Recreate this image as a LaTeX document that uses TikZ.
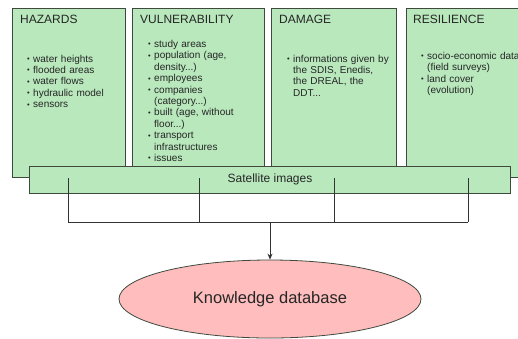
\documentclass[tikz,border=0pt]{standalone}
\usepackage{fontspec}
\setmainfont{Liberation Sans}
\usepackage{tikz}
\usetikzlibrary{positioning}
\usetikzlibrary{shapes.geometric}
\usetikzlibrary{arrows.meta}
\definecolor{vertclair}{HTML}{B8E8BC}
\definecolor{roseclair}{HTML}{FFBDBD}
\definecolor{traitbord}{HTML}{3E4A3E}
\newcommand{\puce}[1]{\hangindent=6pt\hangafter=1\noindent\makebox[6pt][l]{\raisebox{0.6pt}{\fontsize{7.5}{7.5}\selectfont\textbullet}}#1\par}
\begin{document}
\begin{tikzpicture}[x=1pt,y=-1pt]
% définition des paramètres
\tikzstyle boite=[draw=traitbord,fill=vertclair,line width=0.8pt,anchor=north west,inner sep=0pt]
\tikzstyle titre=[anchor=base west,inner sep=0pt,text=black!85,font=\fontsize{12}{14}\selectfont]
\tikzstyle liste=[anchor=base west,inner sep=0pt,text=black!85,text width=150pt,font=\fontsize{10}{11.4}\selectfont\raggedright]
\tikzstyle trait=[draw=black!80,line width=0.7pt]
\newcommand{\hautboite}{169} % hauteur des quatre boîtes
\useasboundingbox (0,0) rectangle (518,338);
\clip (0,0) rectangle (518,338);
% les quatre boîtes
\node[boite,minimum width=113,minimum height=\hautboite] (hazards) at (12,8) {};
\node[boite,minimum width=132,minimum height=\hautboite] (vulner) at (132,8) {};
\node[boite,minimum width=125,minimum height=\hautboite] (damage) at (271,8) {};
\node[boite,minimum width=130,minimum height=\hautboite] (resil) at (406,8) {};
% les titres
\node[titre] (thazards) at ([shift={(8,15)}]hazards.north west) {HAZARDS};
\node[titre] (tvulner) at ([shift={(8,15)}]vulner.north west) {VULNERABILITY};
\node[titre] (tdamage) at ([shift={(8,15)}]damage.north west) {DAMAGE};
\node[titre] (tresil) at ([shift={(7,15)}]resil.north west) {RESILIENCE};
% les listes
\node[liste] (lhazards) at ([shift={(15,54)}]hazards.north west) {%
  \puce{water heights}
  \puce{flooded areas}
  \puce{water flows}
  \puce{hydraulic model}
  \puce{sensors}};
\node[liste] (lvulner) at ([shift={(16,39.5)}]vulner.north west) {%
  \puce{study areas}
  \puce{population (age,\newline density...)}
  \puce{employees}
  \puce{companies\newline (category...)}
  \puce{built (age, without\newline floor...)}
  \puce{transport\newline infrastructures}
  \puce{issues}};
\node[liste] (ldamage) at ([shift={(16,54)}]damage.north west) {%
  \puce{informations given by\newline the SDIS, Enedis,\newline the DREAL, the\newline DDT...}};
\node[liste] (lresil) at ([shift={(15,51.5)}]resil.north west) {%
  \puce{socio-economic data\newline (field surveys)}
  \puce{land cover\newline (evolution)}};
% la bande des images satellite
\node[boite,minimum width=481,minimum height=27] (satel) at (29,166) {};
\node[inner sep=0pt,text=black!85,font=\fontsize{12}{14}\selectfont] (tsatel) at (270,179.5) {Satellite images};
% les traits de regroupement
\foreach \nom/\x in {a/68,b/199,c/334,d/468}
  {
  \coordinate (haut\nom) at (\x,178);
  \coordinate (bas\nom) at (\x,222);
  \draw[trait] (haut\nom) -- (bas\nom);
  }
\draw[trait] (basa) -- (basd);
\coordinate (milieu) at (270,222);
% la base de connaissances
\node[ellipse,draw=traitbord,fill=roseclair,line width=0.8pt,minimum width=302,minimum height=78,text=black!85,font=\fontsize{16.5}{18}\selectfont] (base) at (270,299) {Knowledge database};
\draw[trait,-{Stealth[length=6pt,width=5pt]}] (milieu) -- (base.north);
\end{tikzpicture}
\end{document}
